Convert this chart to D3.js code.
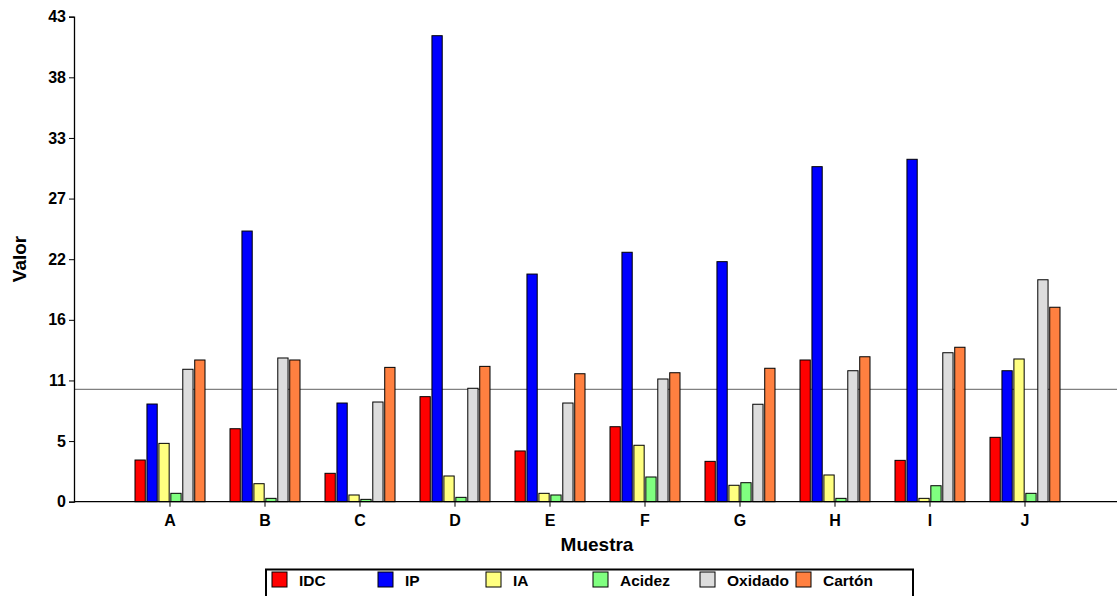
<!DOCTYPE html>
<html>
<head>
<meta charset="utf-8">
<script src="https://cdn.jsdelivr.net/npm/d3@7"></script>
<style>
  body { margin: 0; background: #fff; }
  svg { display: block; }
  text { font-family: "Liberation Sans", Arial, sans-serif; font-weight: bold; fill: #000; }
</style>
</head>
<body>
<svg id="chart" width="1117" height="596"></svg>
<script>
const categories = ["A","B","C","D","E","F","G","H","I","J"];
const seriesNames = ["IDC","IP","IA","Acidez","Oxidado","Cartón"];
const colors = ["#FF0000","#0000FF","#FFFF80","#80FF80","#DDDDDD","#FF8040"];
const IDC     = [3.73, 6.53, 2.54, 9.40, 4.54, 6.71, 3.61, 12.68, 3.70, 5.76];
const IP      = [8.74, 24.22, 8.83, 41.70, 20.37, 22.32, 21.48, 29.98, 30.64, 11.72];
const IA      = [5.22, 1.61, 0.60, 2.30, 0.75, 5.05, 1.47, 2.39, 0.30, 12.77];
const Acidez  = [0.75, 0.30, 0.21, 0.39, 0.60, 2.21, 1.70, 0.30, 1.43, 0.75];
const Oxidado = [11.85, 12.86, 8.92, 10.15, 8.83, 10.98, 8.72, 11.72, 13.33, 19.86];
const Carton  = [12.68, 12.68, 12.02, 12.11, 11.45, 11.54, 11.94, 12.97, 13.82, 17.40];
const referenceLine = 10.06;
const yMax = 43.4;
const yTicks = d3.range(0, 9).map(i => i * yMax / 8);

const series = [IDC, IP, IA, Acidez, Oxidado, Carton];

const svg = d3.select("#chart");
const mLeft = 74, mRight = 1117, mTop = 16.7, mBottom = 501.7;

const x = d3.scaleBand().domain(categories).range([122.5, 1072.5]).paddingInner(0).paddingOuter(0);
const xInner = d3.scaleBand().domain(seriesNames).range([0, 70]).paddingInner(0.14);
const y = d3.scaleLinear().domain([0, yMax]).range([mBottom, mTop]);

// reference line
svg.append("line")
  .attr("x1", mLeft).attr("x2", mRight)
  .attr("y1", y(referenceLine)).attr("y2", y(referenceLine))
  .attr("stroke", "#808080").attr("stroke-width", 1.2);

// bars
const groups = svg.append("g").selectAll("g")
  .data(categories)
  .join("g")
  .attr("transform", c => `translate(${x(c) + x.bandwidth()/2 - 35},0)`);

groups.selectAll("rect")
  .data((c, ci) => seriesNames.map((s, si) => ({s, si, v: series[si][ci]})))
  .join("rect")
  .attr("x", d => xInner(d.s))
  .attr("width", xInner.bandwidth())
  .attr("y", d => y(d.v))
  .attr("height", d => y(0) - y(d.v))
  .attr("fill", d => colors[d.si])
  .attr("stroke", "#000")
  .attr("stroke-width", 1);

// y axis
const yAxis = svg.append("g")
  .attr("transform", `translate(${mLeft},0)`)
  .call(d3.axisLeft(y).tickValues(yTicks).tickFormat(d3.format(".0f")).tickSize(5).tickPadding(3));
yAxis.select(".domain").attr("stroke", "#000").attr("stroke-width", 1.3);
yAxis.selectAll("text").style("font-size", "16px").style("font-family", "'Liberation Sans', Arial, sans-serif").style("font-weight", "bold");

// x axis
const xAxis = svg.append("g")
  .attr("transform", `translate(0,${mBottom})`)
  .call(d3.axisBottom(x).tickSize(5).tickPadding(8));
xAxis.select(".domain").remove();
xAxis.append("line").attr("x1", mLeft).attr("x2", mRight).attr("y1", 0).attr("y2", 0)
  .attr("stroke", "#000").attr("stroke-width", 1.3);
xAxis.selectAll("text").style("font-size", "16px").style("font-family", "'Liberation Sans', Arial, sans-serif").style("font-weight", "bold");

// axis titles
svg.append("text")
  .attr("transform", "translate(26,259) rotate(-90)")
  .attr("text-anchor", "middle")
  .style("font-size", "19px")
  .text("Valor");
svg.append("text")
  .attr("x", 597).attr("y", 551)
  .attr("text-anchor", "middle")
  .style("font-size", "19px")
  .text("Muestra");

// legend
const legendX = [272, 378, 486, 593, 700, 796];
const legend = svg.append("g");
legend.append("rect")
  .attr("x", 266).attr("y", 569.5).attr("width", 647).attr("height", 30)
  .attr("fill", "#fff").attr("stroke", "#000").attr("stroke-width", 2);
const items = legend.selectAll("g.item")
  .data(seriesNames)
  .join("g").attr("class", "item")
  .attr("transform", (d, i) => `translate(${legendX[i]},572)`);
items.append("rect")
  .attr("width", 15).attr("height", 15)
  .attr("fill", (d, i) => colors[i])
  .attr("stroke", "#000").attr("stroke-width", 1);
items.append("text")
  .attr("x", 27).attr("y", 14)
  .style("font-size", "15.5px")
  .text(d => d);
</script>
</body>
</html>
